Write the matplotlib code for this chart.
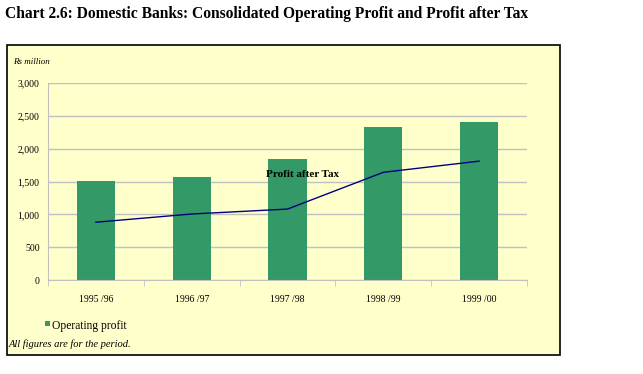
import numpy as np
import matplotlib.pyplot as plt
from matplotlib.patches import Rectangle

years = ["1995/96", "1996/97", "1997/98", "1998/99", "1999/00"]
tick_labels = ["1995 /96", "1996 /97", "1997 /98", "1998 /99", "1999 /00"]
operating_profit = [1510, 1575, 1850, 2330, 2405]
profit_after_tax = [880, 1005, 1080, 1640, 1810]
y_ticks = [0, 500, 1000, 1500, 2000, 2500, 3000]

W, H = 643, 374
bg = "#FFFFCC"
green = "#339966"
navy = "#000080"
serif = ["Liberation Serif", "DejaVu Serif"]

fig = plt.figure(figsize=(W / 100, H / 100), dpi=100)
fig.patch.set_facecolor("white")

# yellow chart frame, kept behind the axes
fig.patches.append(Rectangle((7 / W, 1 - 355 / H), (560 - 7) / W, (355 - 45) / H,
                             transform=fig.transFigure, facecolor=bg,
                             edgecolor="black", linewidth=1.2, zorder=-5))

fig.text(5 / W, 1 - 14 / H,
         "Chart 2.6: Domestic Banks: Consolidated Operating Profit and Profit after Tax",
         family=serif, fontsize=11.2, fontweight="bold", va="center", ha="left")

ax = fig.add_axes([48 / W, 1 - 280 / H, (527 - 48) / W, (280 - 83) / H])
ax.set_zorder(2)
ax.set_facecolor(bg)
x = np.arange(len(years))
ax.bar(x, operating_profit, width=0.4, color=green, zorder=2)
ax.plot(x, profit_after_tax, color=navy, linewidth=1, zorder=3)

ax.set_xlim(-0.5, len(years) - 0.5)
ax.set_ylim(0, 3000)
ax.set_yticks(y_ticks)
ax.set_yticklabels([f"{v:,}" for v in y_ticks], family=serif, fontsize=7)
ax.yaxis.grid(True, color="#C0C0C0", linewidth=1, zorder=1)
ax.set_axisbelow(True)
ax.tick_params(axis="y", length=0, pad=6)

ax.set_xticks(x)
ax.set_xticklabels(tick_labels, family=serif, fontsize=7)
ax.set_xticks(np.arange(-0.5, len(years)), minor=True)
ax.tick_params(axis="x", which="major", length=0, pad=11)
ax.tick_params(axis="x", which="minor", length=4, color="#C0C0C0")

for side in ["top", "right"]:
    ax.spines[side].set_visible(False)
for side in ["left", "bottom"]:
    ax.spines[side].set_color("#C0C0C0")

ax.text(2.16, 1614, "Profit after Tax", family=serif, fontsize=8,
        fontweight="bold", ha="center", va="center")

fig.text(13 / W, 1 - 62 / H, "Rs million", family=serif, fontsize=6.5,
         style="italic", va="center", ha="left")

fig.patches.append(Rectangle((45 / W, 1 - 326 / H), 5 / W, 5 / H,
                             transform=fig.transFigure, facecolor=green,
                             edgecolor="none"))
fig.text(52 / W, 1 - 326 / H, "Operating profit", family=serif, fontsize=8.3,
         va="center", ha="left")
fig.text(9 / W, 1 - 344 / H, "All figures are for the period.", family=serif,
         fontsize=7.6, style="italic", va="center", ha="left")

fig.savefig("out.png", dpi=100)
